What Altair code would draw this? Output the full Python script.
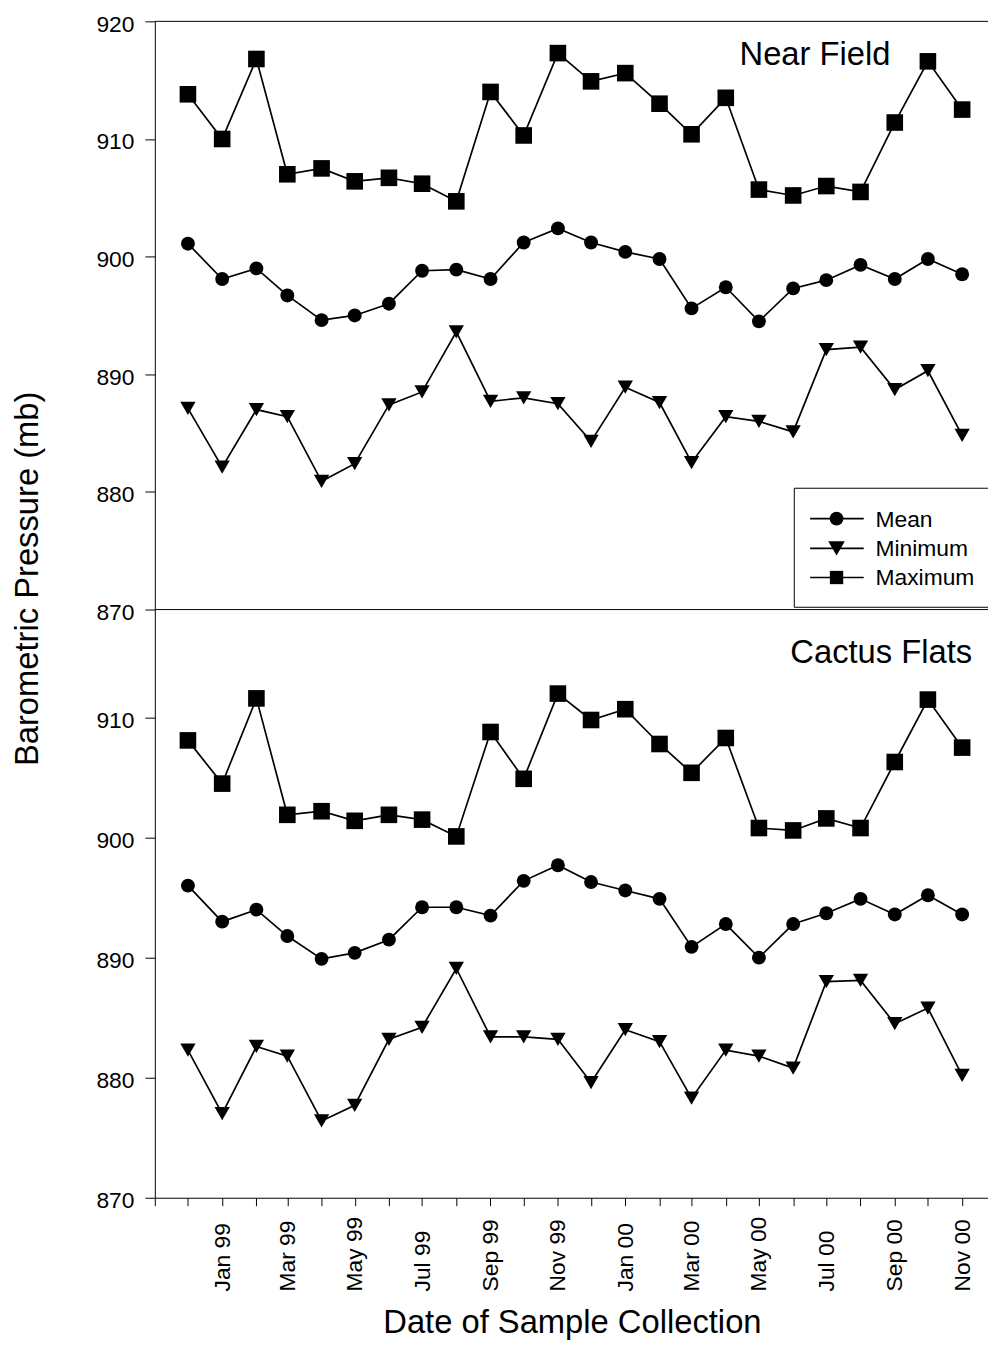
import altair as alt
import pandas as pd

# ---------------- data ----------------
MONTHS = ["1998-12-01", "1999-01-01", "1999-02-01", "1999-03-01", "1999-04-01", "1999-05-01",
          "1999-06-01", "1999-07-01", "1999-08-01", "1999-09-01", "1999-10-01", "1999-11-01",
          "1999-12-01", "2000-01-01", "2000-02-01", "2000-03-01", "2000-04-01", "2000-05-01",
          "2000-06-01", "2000-07-01", "2000-08-01", "2000-09-01", "2000-10-01", "2000-11-01"]

SERIES = ["Mean", "Minimum", "Maximum"]
PANELS = ["Near Field", "Cactus Flats"]

NEAR_MEAN = [901.1, 898.1, 899.0, 896.7, 894.6, 895.0, 896.0, 898.8, 898.9, 898.1, 901.2, 902.4,
             901.2, 900.4, 899.8, 895.6, 897.4, 894.5, 897.3, 898.0, 899.3, 898.1, 899.8, 898.5]
NEAR_MIN = [887.1, 882.1, 887.0, 886.4, 880.9, 882.4, 887.4, 888.5, 893.6, 887.7, 888.0, 887.5,
            884.3, 888.9, 887.6, 882.5, 886.4, 886.0, 885.1, 892.1, 892.3, 888.7, 890.3, 884.8]
NEAR_MAX = [913.8, 910.0, 916.8, 907.0, 907.5, 906.4, 906.7, 906.2, 904.7, 914.0, 910.3, 917.3,
            914.9, 915.6, 913.0, 910.4, 913.5, 905.7, 905.2, 906.0, 905.5, 911.4, 916.6, 912.5]

CACTUS_MEAN = [896.0, 893.0, 894.0, 891.8, 889.9, 890.4, 891.5, 894.2, 894.2, 893.5, 896.4, 897.7,
               896.3, 895.6, 894.9, 890.9, 892.8, 890.0, 892.8, 893.7, 894.9, 893.6, 895.2, 893.6]
CACTUS_MIN = [882.3, 877.0, 882.6, 881.8, 876.4, 877.7, 883.2, 884.2, 889.1, 883.4, 883.4, 883.2,
              879.6, 884.0, 883.0, 878.3, 882.3, 881.8, 880.8, 888.0, 888.1, 884.5, 885.8, 880.2]
CACTUS_MAX = [908.1, 904.5, 911.6, 901.9, 902.2, 901.4, 901.9, 901.5, 900.1, 908.8, 904.9, 912.0,
              909.8, 910.7, 907.8, 905.4, 908.3, 900.8, 900.6, 901.6, 900.8, 906.3, 911.5, 907.5]

TICK_MONTHS = ["1998-11", "1998-12", "1999-01", "1999-02", "1999-03", "1999-04", "1999-05",
               "1999-06", "1999-07", "1999-08", "1999-09", "1999-10", "1999-11", "1999-12",
               "2000-01", "2000-02", "2000-03", "2000-04", "2000-05", "2000-06", "2000-07",
               "2000-08", "2000-09", "2000-10", "2000-11"]

Y_TICKS_TOP = [870, 880, 890, 900, 910, 920]
Y_TICKS_BOTTOM = [870, 880, 890, 900, 910]
Y_DOMAIN_TOP = [870, 920]
Y_DOMAIN_BOTTOM = [870, 919]

Y_TITLE = "Barometric Pressure (mb)"
X_TITLE = "Date of Sample Collection"

rows = []
for panel, lists in zip(PANELS, [[NEAR_MEAN, NEAR_MIN, NEAR_MAX],
                                 [CACTUS_MEAN, CACTUS_MIN, CACTUS_MAX]]):
    for s, vals in zip(SERIES, lists):
        for m, v in zip(MONTHS, vals):
            rows.append({"panel": panel, "series": s, "date": m, "value": v})
df = pd.DataFrame(rows)

# ---------------- layout / style ----------------
FONT = "Liberation Sans"
W = 840
PANEL_H = 593
H = 1186
# pixel band of each panel inside the single plot area
Y_RANGES = [[PANEL_H, 0], [H, PANEL_H]]

X_SCALE = alt.Scale(type="utc", domain=[
    alt.DateTime(year=1998, month=11, date=1, utc=True),
    alt.DateTime(year=2000, month=11, date=24, hours=10, utc=True)])
X_TICK_VALUES = [alt.DateTime(year=int(t[:4]), month=int(t[5:]), date=1, utc=True)
                 for t in TICK_MONTHS]

SYMBOLS = ["circle", "triangle-down", "square"]
SYMBOL_SIZES = [196, 280, 180]
SHAPE = alt.Shape("series:N", legend=None, scale=alt.Scale(domain=SERIES, range=SYMBOLS))
SIZE = alt.Size("series:N", legend=None, scale=alt.Scale(domain=SERIES, range=SYMBOL_SIZES))

Y_AXIS_STYLE = dict(orient="left", tickSize=10, labelPadding=11, labelFontSize=23,
                    labelFont=FONT, labelColor="black", labelOffset=3, labelBaseline="middle",
                    domainColor="black", tickColor="black", domainWidth=1, tickWidth=1,
                    grid=False, labelOverlap=False, labelFlush=False)

X_AXIS = alt.Axis(
    orient="bottom", values=X_TICK_VALUES,
    labelExpr="(utcmonth(datum.value) % 2 == 0 && utcyear(datum.value) > 1998) ? "
              "utcFormat(datum.value, '%b %y') : ''",
    labelAngle=270, labelAlign="left", labelBaseline="middle", labelPadding=86,
    tickSize=8, tickColor="black", tickWidth=1, labelFontSize=23, labelFont=FONT,
    labelColor="black", labelFlush=False, labelOverlap=False, domainColor="black",
    domainWidth=1, grid=False, title=X_TITLE, titleFont=FONT, titleFontSize=33,
    titleFontWeight="normal", titleColor="black", titleX=420.5, titleY=136,
    titleAlign="center", titleBaseline="alphabetic")

Y_AXES = [
    alt.Axis(values=Y_TICKS_TOP, title=Y_TITLE, titleFont=FONT, titleFontSize=33,
             titleFontWeight="normal", titleColor="black", titleAngle=270,
             titleAlign="center", titleBaseline="bottom", titleX=-111, titleY=561.5,
             **Y_AXIS_STYLE),
    alt.Axis(values=Y_TICKS_BOTTOM, title="", **Y_AXIS_STYLE),
]


def panel(idx):
    d = df[df.panel == PANELS[idx]]
    is_top = idx == 0
    yscale = alt.Scale(domain=[Y_DOMAIN_TOP, Y_DOMAIN_BOTTOM][idx], range=Y_RANGES[idx],
                       nice=False, zero=False)
    x_enc = alt.X("date:T", scale=X_SCALE, axis=X_AXIS)
    y_enc = alt.Y("value:Q", scale=yscale, axis=Y_AXES[idx])

    lines = alt.Chart(d).mark_line(color="black", strokeWidth=1.7).encode(
        x=x_enc, y=y_enc, detail="series:N")
    pts = alt.Chart(d).mark_point(filled=True, color="black", opacity=1, strokeWidth=0).encode(
        x=x_enc, y=y_enc, shape=SHAPE, size=SIZE)

    title_pos = [(589.5, 44), (640.7, PANEL_H + 53.7)][idx]
    label = alt.Chart(alt.Data(values=[{"name": PANELS[idx]}])).mark_text(
        font=FONT, fontSize=33, color="black", align="left", baseline="alphabetic"
    ).encode(x=alt.value(title_pos[0]), y=alt.value(title_pos[1]), text="name:N")

    # frame line along the top edge of this panel
    one = alt.Data(values=[{"k": 0}])
    frame = alt.Chart(one).mark_rule(color="black", strokeWidth=1).encode(
        x=alt.value(0), x2=alt.value(W), y=alt.value(Y_RANGES[idx][1]))

    layers = [lines, pts, label, frame]

    if is_top:
        bx0, by0, by1 = 644.7, 470.7, 590.7
        box_style = dict(color="black", strokeWidth=1)
        layers += [
            alt.Chart(one).mark_rule(**box_style).encode(
                x=alt.value(bx0), x2=alt.value(W), y=alt.value(by0)),
            alt.Chart(one).mark_rule(**box_style).encode(
                x=alt.value(bx0), x2=alt.value(W), y=alt.value(by1)),
            alt.Chart(one).mark_rule(**box_style).encode(
                x=alt.value(bx0), y=alt.value(by0), y2=alt.value(by1)),
        ]
        entry_y = [501.3, 531.3, 560.7]
        for name, sym, sz, ey in zip(SERIES, SYMBOLS, SYMBOL_SIZES, entry_y):
            dd = alt.Data(values=[{"name": name}])
            layers += [
                alt.Chart(dd).mark_rule(color="black", strokeWidth=1.7).encode(
                    x=alt.value(660.7), x2=alt.value(714.7), y=alt.value(ey)),
                alt.Chart(dd).mark_point(filled=True, color="black", opacity=1,
                                         strokeWidth=0, shape=sym, size=sz).encode(
                    x=alt.value(687.3), y=alt.value(ey)),
                alt.Chart(dd).mark_text(font=FONT, fontSize=23, color="black", align="left",
                                        baseline="middle").encode(
                    x=alt.value(726.6), y=alt.value(ey + 1), text="name:N"),
            ]
    return alt.layer(*layers)


chart = alt.layer(panel(0), panel(1)).resolve_scale(
    y="independent"
).resolve_axis(
    y="independent"
).properties(
    width=W, height=H,
    autosize=alt.AutoSizeParams(type="none"),
    padding={"left": 148, "top": 8, "right": 0, "bottom": 144},
).configure(font=FONT, background="white").configure_view(stroke="transparent")

chart.save("out.html", embed_options={"renderer": "svg", "actions": False})
